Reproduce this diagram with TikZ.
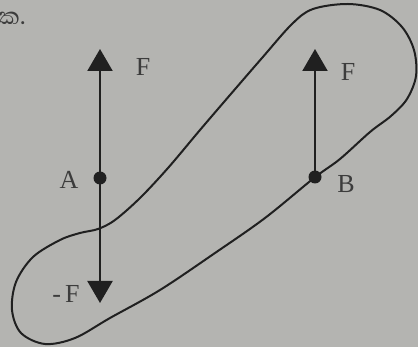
\documentclass[tikz,border=0pt]{standalone}
\usepackage{fontspec}
\setmainfont{Liberation Serif}
\newfontfamily\sinhalafont[Script=Sinhala]{Abhaya Libre}
\usetikzlibrary{arrows.meta}
\definecolor{bg}{RGB}{180,180,177}
\definecolor{ink}{RGB}{32,32,32}
\definecolor{txt}{RGB}{60,60,60}
\tikzset{
  force/.style={draw=ink, line width=2.2pt, -{Triangle[length=22pt,width=25pt]}},
  lbl/.style={text=txt, font=\fontsize{26}{26}\selectfont, inner sep=0pt},
  pt/.style={circle, fill=ink, minimum size=13pt, inner sep=0pt},
  body/.style={draw=ink, line width=2pt}
}
\begin{document}
\begin{tikzpicture}[x=1pt,y=-1pt]
\fill[bg] (0,0) rectangle (418,347);
\useasboundingbox (0,0) rectangle (418,347);
% body outline
\draw[body] plot[smooth cycle, tension=0.55] coordinates {
 (314,178) (340,159) (370,132) (391,116) (407,99) (416,76) (414,50) (402,27)
 (380,10) (348,4) (313,9) (292,24) (262,58) (230,95) (200,130) (168,168)
 (140,198) (115,220) (98,229) (80,233) (60,240) (33,257) (16,282) (12,310)
 (21,333) (45,344) (75,338) (110,318) (160,290) (215,253) (265,218)
};
\coordinate (Atop) at (100,49);
\coordinate (Abot) at (100,303);
\coordinate (Btop) at (315,49);
\node[pt] (A) at (100,178) {};
\node[pt] (B) at (315,177) {};
\draw[force] (A.center) -- (Atop);
\draw[force] (A.center) -- (Abot);
\draw[force] (B.center) -- (Btop);
\node[lbl] (la) at (69,180) {A};
\node[lbl] (lb) at (346,184) {B};
\node[lbl] (f1) at (143,67) {F};
\node[lbl] (f2) at (348,72) {F};
\node[lbl] (f3) at (66,294) {-\,F};
\node[lbl, anchor=base east, font=\fontsize{30}{30}\selectfont] (opt) at (26,25) {\sinhalafont ක.};
\end{tikzpicture}
\end{document}
